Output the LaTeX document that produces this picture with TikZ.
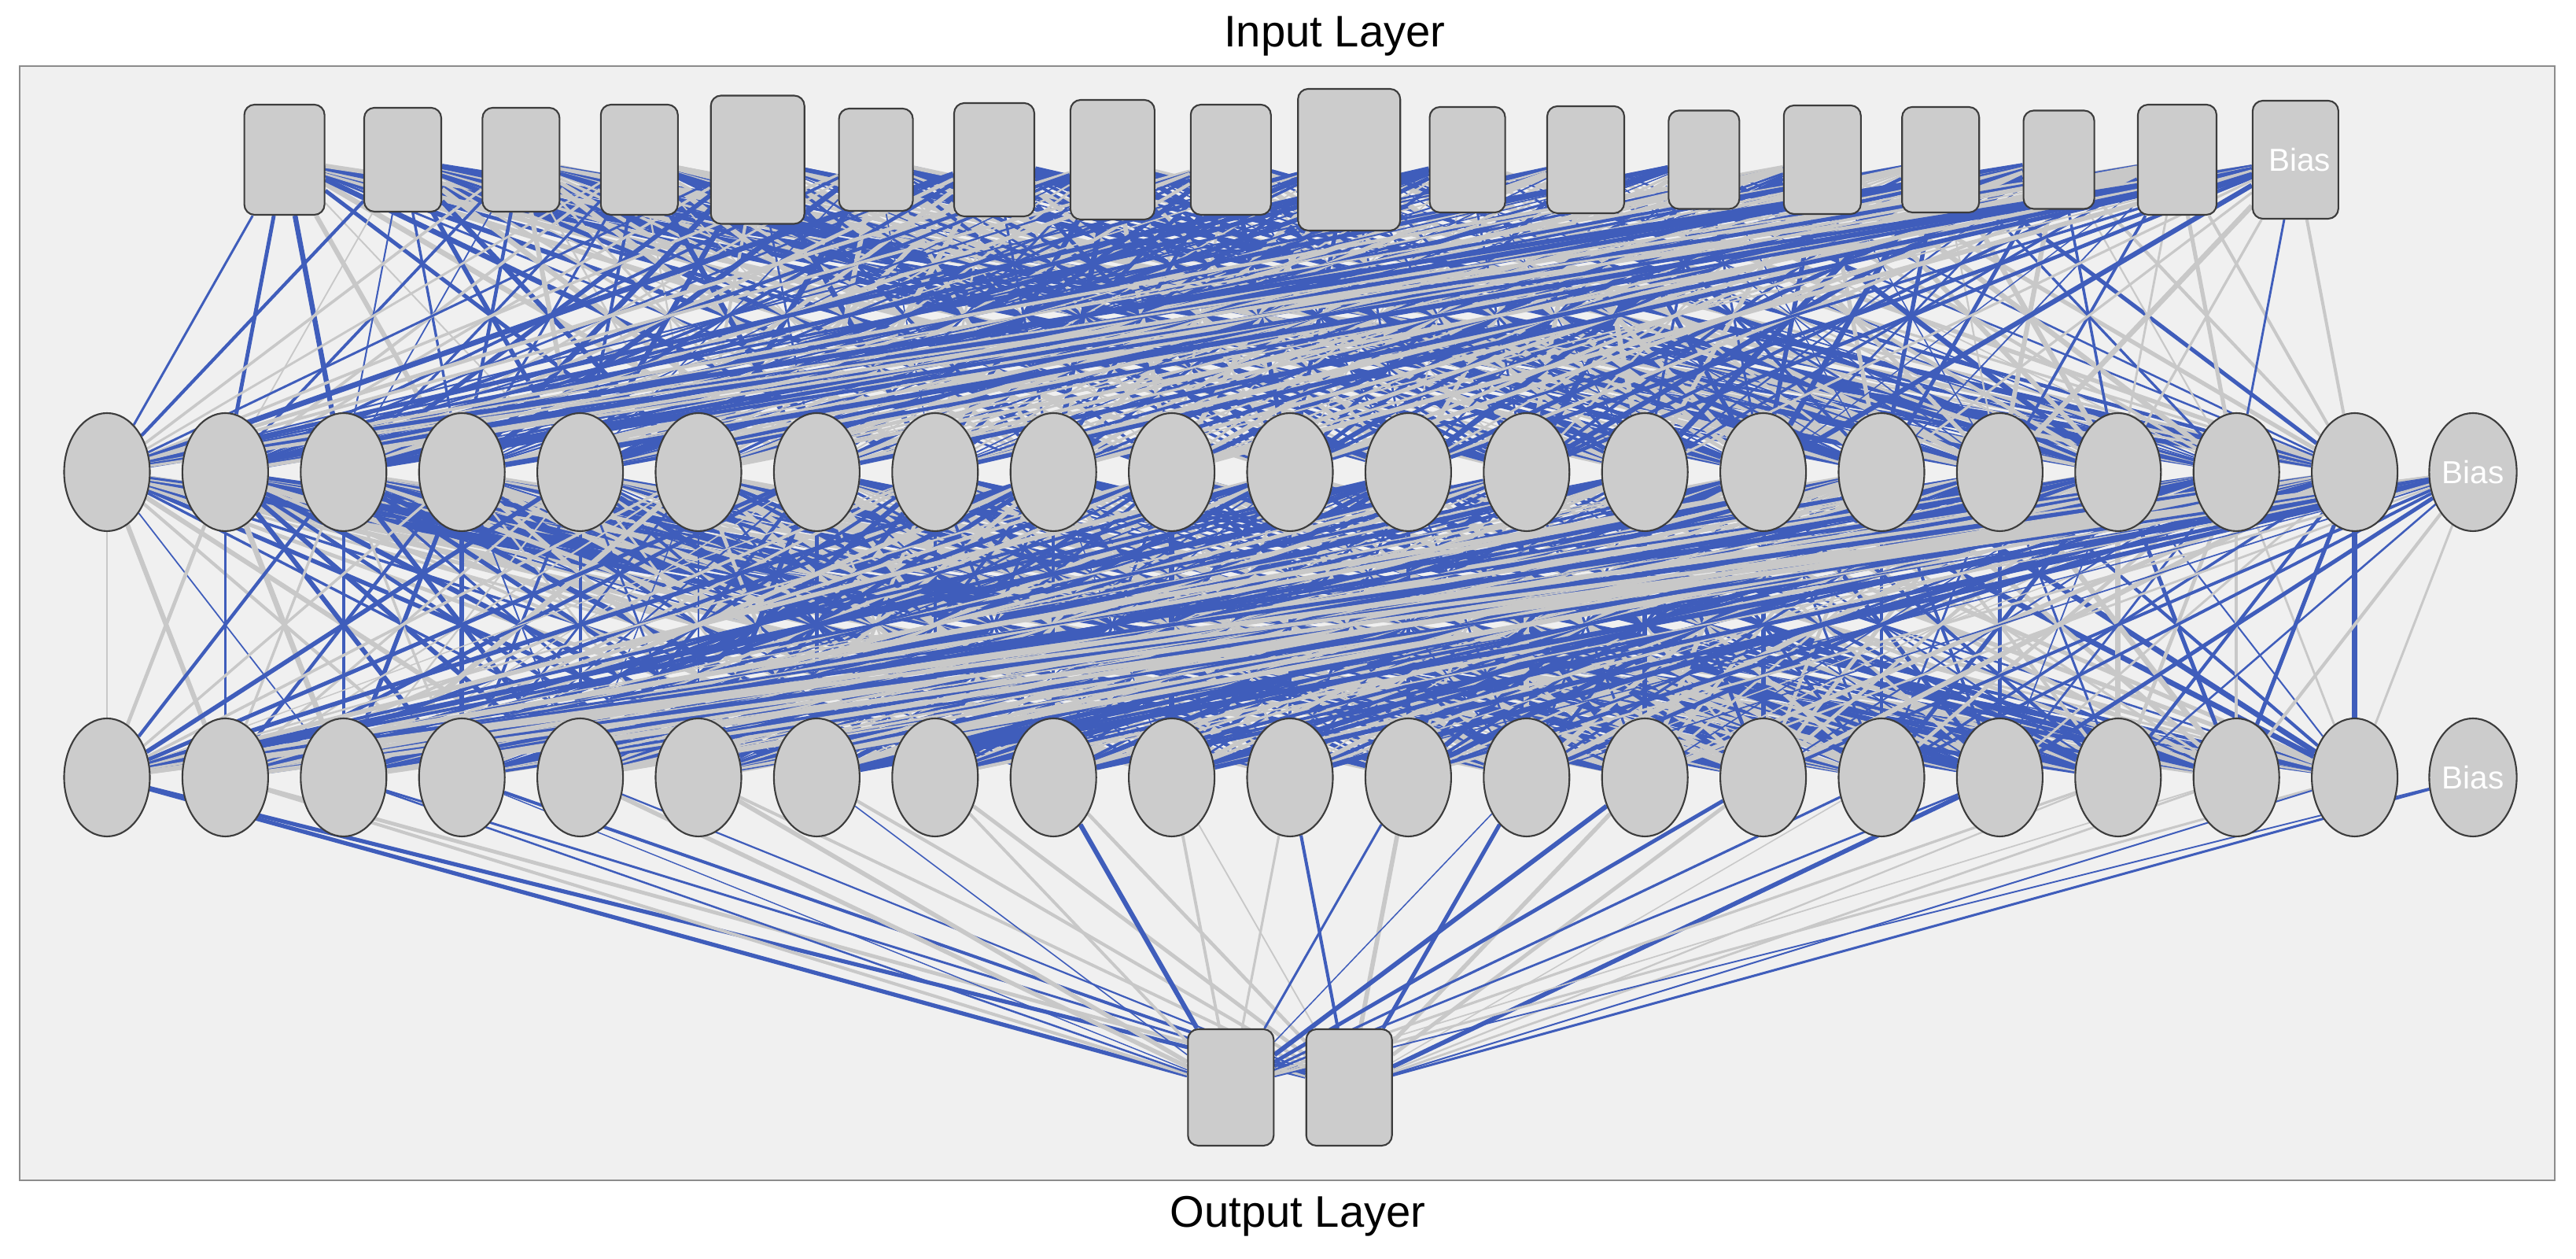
\documentclass[tikz,border=0pt]{standalone}
\usepackage{fontspec}
\setmainfont{Liberation Sans}
\usepackage{tikz}
\usetikzlibrary{positioning,shapes.geometric}
\definecolor{linkblue}{RGB}{63,93,187}
\definecolor{linkgray}{RGB}{200,200,200}
\definecolor{unitfill}{RGB}{204,204,204}
\definecolor{unitline}{RGB}{60,60,60}
\definecolor{panel}{RGB}{240,240,240}
\pgfdeclarelayer{frame}
\pgfdeclarelayer{links}
\pgfsetlayers{frame,links,main}

\begin{document}
\begin{tikzpicture}[%
        unit/.style={%
          ellipse,
          minimum width=1.09cm,
          minimum height=1.5cm,
          inner sep=0pt,
          fill=unitfill,
          draw=unitline,
          line width=0.6pt
        },
        port/.style={%
          rectangle,
          rounded corners=0.13cm,
          inner sep=0pt,
          fill=unitfill,
          draw=unitline,
          line width=0.6pt
        },
        biastext/.style={text=white,font=\fontsize{11.5}{13}\selectfont},
        layertext/.style={font=\fontsize{16}{19}\selectfont},
        link0/.style={draw=linkgray},
        link1/.style={draw=linkblue}
      ]
      \useasboundingbox (0,0) rectangle (32.75,16);
      \begin{pgfonlayer}{frame}
        \draw[fill=panel,draw=gray!90] (0.25,1.0) rectangle (32.48,15.16);
      \end{pgfonlayer}
      \node[layertext] (intitle) at (16.97,15.54) {Input Layer};
      \node[layertext] (outtitle) at (16.5,0.54) {Output Layer};
      % input layer
      \foreach \i/\w/\h in {0/1.02/1.40,1/0.98/1.32,2/0.98/1.32,3/0.98/1.40,4/1.19/1.63,
          5/0.94/1.30,6/1.02/1.44,7/1.07/1.52,8/1.02/1.40,9/1.30/1.80,10/0.96/1.34,
          11/0.98/1.36,12/0.90/1.25,13/0.98/1.38,14/0.98/1.34,15/0.90/1.25,16/1.00/1.40}
        \node[port,minimum width=\w cm,minimum height=\h cm] (in\i) at (3.616+1.504*\i,13.97) {};
      \node[port,minimum width=1.09cm,minimum height=1.5cm] (in17) at (3.616+1.504*17,13.97) {\hspace{0.1cm}\textcolor{white}{\fontsize{11.5}{13}\selectfont Bias}};
      % hidden layers
      \foreach \j in {0,...,19}{
        \node[unit] (ha\j) at (1.36+1.504*\j,10.0) {};
        \node[unit] (hb\j) at (1.36+1.504*\j,6.12) {};
      }
      \node[unit,biastext] (ha20) at (1.36+1.504*20,10.0) {Bias};
      \node[unit,biastext] (hb20) at (1.36+1.504*20,6.12) {Bias};
      % output layer
      \node[port,minimum width=1.09cm,minimum height=1.48cm] (out0) at (15.648,2.18) {};
      \node[port,minimum width=1.09cm,minimum height=1.48cm] (out1) at (17.152,2.18) {};
      % weights
      \pgfmathsetseed{2718}
      \begin{pgfonlayer}{links}
        \foreach \i in {0,...,17}
          \foreach \j in {0,...,19}{
            \pgfmathsetmacro\wd{0.4+1.6*rnd}
            \pgfmathtruncatemacro\sg{rnd<0.55}
            \draw[link\sg,line width=\wd pt] (in\i) -- (ha\j);
          }
        \foreach \i in {0,...,20}
          \foreach \j in {0,...,19}{
            \pgfmathsetmacro\wd{0.4+1.6*rnd}
            \pgfmathtruncatemacro\sg{rnd<0.55}
            \draw[link\sg,line width=\wd pt] (ha\i) -- (hb\j);
          }
        \foreach \i in {0,...,20}
          \foreach \j in {0,1}{
            \pgfmathsetmacro\wd{0.4+1.4*rnd}
            \pgfmathtruncatemacro\sg{rnd<0.5}
            \draw[link\sg,line width=\wd pt] (hb\i) -- (out\j);
          }
      \end{pgfonlayer}
    \end{tikzpicture}
\end{document}
